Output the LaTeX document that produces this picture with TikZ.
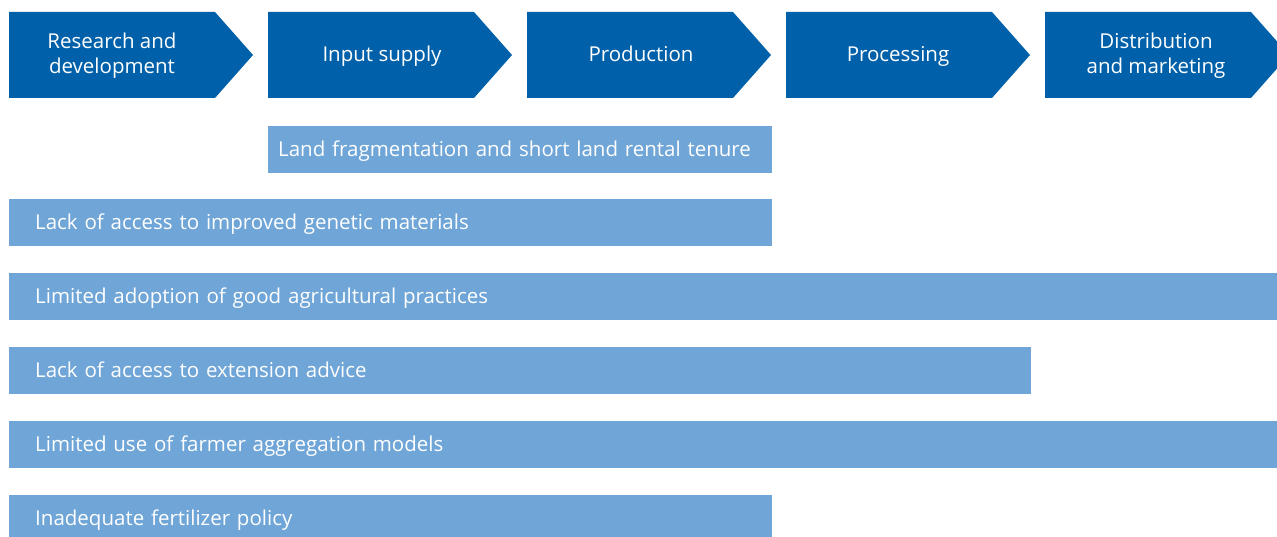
\documentclass[tikz,border=0pt]{standalone}
\usepackage{fontspec}
\setmainfont{Open Sans}
\definecolor{darkb}{HTML}{0061AA}
\definecolor{lightb}{HTML}{6FA5D7}
\begin{document}
\begin{tikzpicture}[x=1pt,y=-1pt,
  chev/.style={fill=darkb},
  chevtext/.style={text=white,font=\fontsize{20.5}{25}\selectfont,align=center,inner sep=0pt,
    text height=18pt,text depth=5pt},
  bar/.style={fill=lightb,anchor=north west,minimum height=47pt,inner xsep=26pt,inner ysep=0pt,
    text height=18pt,text depth=5pt,
    text=white,font=\fontsize{20.5}{25}\selectfont,align=left}
]
\useasboundingbox (0,0) rectangle (1277,537);
\clip (0,0) rectangle (1277,537);
% chevrons
\foreach \x in {9,268,527,786,1045}{
  \fill[chev] (\x,12) -- (\x+206,12) -- (\x+244,55) -- (\x+206,98) -- (\x,98) -- cycle;
}
\node[chevtext] (c1) at (112,67.5) {Research and\\development};
\node[chevtext] (c2) at (382,55) {Input supply};
\node[chevtext] (c3) at (641,55) {Production};
\node[chevtext] (c4) at (898,55) {Processing};
\node[chevtext] (c5) at (1156,67.5) {Distribution\\and marketing};
% bars
\node[bar,inner xsep=10pt,text width=484pt] (b1) at (268,126) {Land fragmentation and short land rental tenure};
\node[bar,text width=711pt] (b2) at (9,199) {Lack of access to improved genetic materials};
\node[bar,text width=1216pt] (b3) at (9,273) {Limited adoption of good agricultural practices};
\node[bar,text width=970pt] (b4) at (9,347) {Lack of access to extension advice};
\node[bar,text width=1216pt] (b5) at (9,421) {Limited use of farmer aggregation models};
\node[bar,text width=711pt] (b6) at (9,495) {Inadequate fertilizer policy};
\end{tikzpicture}
\end{document}
